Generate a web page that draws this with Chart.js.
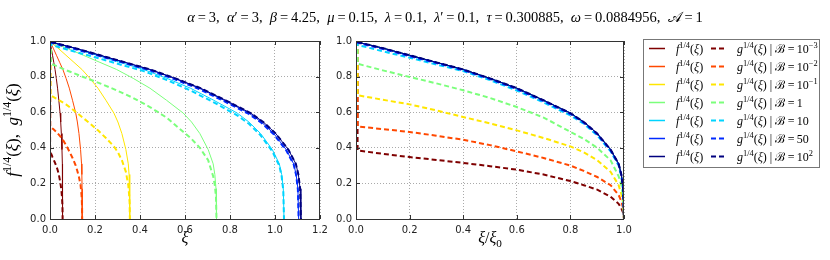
<!DOCTYPE html>
<html>
<head>
<meta charset="utf-8">
<script src="https://cdn.jsdelivr.net/npm/chart.js@4.4.1/dist/chart.umd.min.js"></script>
<style>
  html, body { margin: 0; padding: 0; background: #fff; }
  #wrap { position: relative; width: 830px; height: 260px; }
  #wrap canvas { position: absolute; left: 0; top: 0; }
</style>
</head>
<body>
<div id="wrap">
  <canvas id="leftChart" width="830" height="260"></canvas>
  <canvas id="rightChart" width="830" height="260"></canvas>
</div>
<script>
// B values (legend), base + exponent
const bBase = ["10", "10", "10", "1", "10", "50", "10"];
const bPow = ["\u22123", "\u22122", "\u22121", "", "", "", "2"];
// jet colormap, B = 1e-3 ... 1e2
const colors = ["#7f0000", "#ff4800", "#ffe600", "#7bff7b", "#00d4ff", "#002aff", "#00007f"];
// end point xi_0 of each profile (left panel)
const xi0 = [0.056, 0.143, 0.355, 0.74, 1.04, 1.105, 1.115];

// f^{1/4} against xi/xi0 (all B collapse on the right panel)
const tF = [0, 0.05, 0.1, 0.2, 0.3, 0.4, 0.5, 0.6, 0.7, 0.8, 0.85, 0.9, 0.95, 0.98, 0.99, 0.997, 1.0];
const fVals = [0.995, 0.978, 0.96, 0.92, 0.88, 0.84, 0.79, 0.735, 0.667, 0.595, 0.545, 0.48, 0.39, 0.31, 0.25, 0.17, 0];

// g^{1/4} against xi/xi0, one list per B (sharp drop from 1 right at the origin)
const tG = [0.005, 0.006, 0.1, 0.2, 0.3, 0.4, 0.5, 0.6, 0.7, 0.8, 0.85, 0.9, 0.95, 0.98, 0.99, 0.997, 1.0];
const gB1 = [1, 0.385, 0.366, 0.348, 0.332, 0.315, 0.297, 0.277, 0.25, 0.213, 0.19, 0.165, 0.125, 0.085, 0.06, 0.035, 0];
const gB2 = [1, 0.52, 0.505, 0.489, 0.468, 0.445, 0.415, 0.38, 0.343, 0.30, 0.27, 0.236, 0.19, 0.135, 0.1, 0.06, 0];
const gB3 = [1, 0.695, 0.67, 0.644, 0.61, 0.573, 0.537, 0.498, 0.455, 0.408, 0.375, 0.33, 0.265, 0.19, 0.14, 0.09, 0];
const gB4 = [1, 0.872, 0.835, 0.798, 0.762, 0.723, 0.68, 0.629, 0.57, 0.49, 0.45, 0.40, 0.33, 0.24, 0.19, 0.12, 0];
const gB5 = [1, 0.978, 0.942, 0.906, 0.868, 0.831, 0.78, 0.722, 0.655, 0.582, 0.535, 0.47, 0.38, 0.30, 0.24, 0.16, 0];
const gB6 = [1, 0.99, 0.955, 0.915, 0.876, 0.836, 0.786, 0.73, 0.662, 0.59, 0.541, 0.476, 0.386, 0.307, 0.247, 0.167, 0];
const gB7 = [0.995, 0.994, 0.96, 0.92, 0.88, 0.84, 0.79, 0.735, 0.667, 0.595, 0.545, 0.48, 0.39, 0.31, 0.25, 0.17, 0];
const gAll = [gB1, gB2, gB3, gB4, gB5, gB6, gB7];

const SERIF = '"Liberation Serif", "DejaVu Serif", serif';
const SANS = '"DejaVu Sans", sans-serif';

// draw text made of pieces: [text, kind] with kind i (italic), r, sup, sub
function drawRich(ctx, segs, x, y, size, align) {
  let w = 0;
  const parts = segs.map(([t, k]) => {
    const small = k === "sup" || k === "sub";
    const font = (k === "i" ? "italic " : "") + (small ? size * 0.7 : size) + "px " + SERIF;
    ctx.font = font;
    const p = { t, font, x: w, dy: k === "sup" ? -size * 0.4 : k === "sub" ? size * 0.22 : 0 };
    w += ctx.measureText(t).width;
    return p;
  });
  const x0 = align === "center" ? x - w / 2 : x;
  ctx.textAlign = "left";
  ctx.textBaseline = "alphabetic";
  parts.forEach(p => {
    ctx.font = p.font;
    ctx.fillText(p.t, x0 + p.x, y + p.dy);
  });
}

function makeSets(normalised) {
  const sets = [];
  colors.forEach((c, i) => {
    const sx = normalised ? 1 : xi0[i];
    sets.push({
      data: tF.map((t, k) => ({ x: t * sx, y: fVals[k] })),
      borderColor: c, borderWidth: 1, pointRadius: 0, order: 100 - 2 * i
    });
    sets.push({
      data: tG.map((t, k) => ({ x: t * sx, y: gAll[i][k] })),
      borderColor: c, borderWidth: 2, borderDash: [5, 3], pointRadius: 0, order: 99 - 2 * i
    });
  });
  return sets;
}

// frame, inward ticks and axis titles
const frame = {
  id: "frame",
  afterDatasetsDraw(chart, args, opts) {
    const ctx = chart.ctx, a = chart.chartArea;
    const xs = chart.scales.x, ys = chart.scales.y;
    ctx.save();
    ctx.strokeStyle = "#333";
    ctx.lineWidth = 1;
    ctx.beginPath();
    xs.ticks.forEach(t => {
      const p = Math.round(xs.getPixelForValue(t.value)) + 0.5;
      ctx.moveTo(p, a.bottom); ctx.lineTo(p, a.bottom - 4);
      ctx.moveTo(p, a.top); ctx.lineTo(p, a.top + 4);
    });
    ys.ticks.forEach(t => {
      const p = Math.round(ys.getPixelForValue(t.value)) + 0.5;
      ctx.moveTo(a.left, p); ctx.lineTo(a.left + 4, p);
      ctx.moveTo(a.right, p); ctx.lineTo(a.right - 4, p);
    });
    ctx.stroke();
    ctx.strokeRect(a.left + 0.5, a.top + 0.5, a.right - a.left - 1, a.bottom - a.top);
    ctx.fillStyle = "#000";
    drawRich(ctx, opts.xTitle, (a.left + a.right) / 2, 243, 16, "center");
    if (opts.yTitle) {
      ctx.translate(18, (a.top + a.bottom) / 2);
      ctx.rotate(-Math.PI / 2);
      drawRich(ctx, opts.yTitle, 0, 0, 17, "center");
    }
    ctx.restore();
  }
};

// title line and the legend box (drawn on the right chart)
const extras = {
  id: "extras",
  afterDraw(chart) {
    const ctx = chart.ctx;
    ctx.save();
    ctx.fillStyle = "#000";
    drawRich(ctx, [
      ["\u03b1", "i"], ["\u2009=\u20093,  ", "r"], ["\u03b1", "i"], ["\u2032\u2009=\u20093,  ", "r"],
      ["\u03b2", "i"], ["\u2009=\u20094.25,  ", "r"], ["\u03bc", "i"], ["\u2009=\u20090.15,  ", "r"],
      ["\u03bb", "i"], ["\u2009=\u20090.1,  ", "r"], ["\u03bb", "i"], ["\u2032\u2009=\u20090.1,  ", "r"],
      ["\u03c4", "i"], ["\u2009=\u20090.300885,  ", "r"], ["\u03c9", "i"], ["\u2009=\u20090.0884956,  ", "r"],
      ["\ud835\udc9c", "r"], ["\u2009=\u20091", "r"]
    ], 445, 22, 14.5, "center");

    ctx.fillStyle = "#fff";
    ctx.fillRect(643, 39, 176, 128);
    ctx.strokeStyle = "#777";
    ctx.lineWidth = 1;
    ctx.strokeRect(643.5, 39.5, 176, 128);
    const sets = chart.data.datasets;
    colors.forEach((c, i) => {
      const y = 48.5 + i * 18;
      const fs = sets[2 * i], gs = sets[2 * i + 1];
      ctx.setLineDash([]);
      ctx.strokeStyle = fs.borderColor;
      ctx.lineWidth = 1.5;
      ctx.beginPath(); ctx.moveTo(649, y); ctx.lineTo(665, y); ctx.stroke();
      ctx.setLineDash(gs.borderDash);
      ctx.strokeStyle = gs.borderColor;
      ctx.lineWidth = gs.borderWidth;
      ctx.beginPath(); ctx.moveTo(711, y); ctx.lineTo(727, y); ctx.stroke();
      ctx.setLineDash([]);
      ctx.fillStyle = "#000";
      drawRich(ctx, [["f", "i"], ["1/4", "sup"], ["(", "r"], ["\u03be", "i"], [")", "r"]], 676, y + 4, 12, "left");
      const seg = [["g", "i"], ["1/4", "sup"], ["(", "r"], ["\u03be", "i"], [") | ", "r"], ["\u212c", "r"],
                   ["\u2009=\u2009" + bBase[i], "r"]];
      if (bPow[i]) seg.push([bPow[i], "sup"]);
      drawRich(ctx, seg, 737, y + 4, 12, "left");
    });
    ctx.restore();
  }
};

function axisOpts(max, fitW, fitH, axis) {
  return {
    type: "linear", min: 0, max: max,
    ticks: {
      stepSize: 0.2, autoSkip: false, maxRotation: 0, padding: axis === "x" ? 5 : 4,
      color: "#222", font: { family: SANS, size: 10 },
      callback: v => v.toFixed(1)
    },
    grid: { color: "#aaa", lineWidth: 1, drawTicks: false },
    border: { display: false, dash: [1, 2] },
    afterFit: s => { if (axis === "x") s.height = fitH; else s.width = fitW; }
  };
}

function makeChart(id, normalised, pad, yW, xMax, frameOpts, plugins) {
  return new Chart(document.getElementById(id), {
    type: "line",
    data: { datasets: makeSets(normalised) },
    options: {
      responsive: false, animation: false, events: [],
      layout: { padding: pad },
      plugins: { legend: { display: false }, tooltip: { enabled: false }, frame: frameOpts },
      scales: { x: axisOpts(xMax, 0, 41, "x"), y: axisOpts(1, yW, 0, "y") }
    },
    plugins: plugins
  });
}

makeChart("leftChart", false, { left: 0, right: 510, top: 41, bottom: 0 }, 50, 1.2, {
  xTitle: [["\u03be", "i"]],
  yTitle: [["f", "i"], ["1/4", "sup"], ["(", "r"], ["\u03be", "i"], ["),  ", "r"],
           ["g", "i"], ["1/4", "sup"], ["(", "r"], ["\u03be", "i"], [")", "r"]]
}, [frame]);

makeChart("rightChart", true, { left: 316, right: 206, top: 41, bottom: 0 }, 40, 1.0, {
  xTitle: [["\u03be", "i"], ["/", "r"], ["\u03be", "i"], ["0", "sub"]]
}, [frame, extras]);
</script>
</body>
</html>
